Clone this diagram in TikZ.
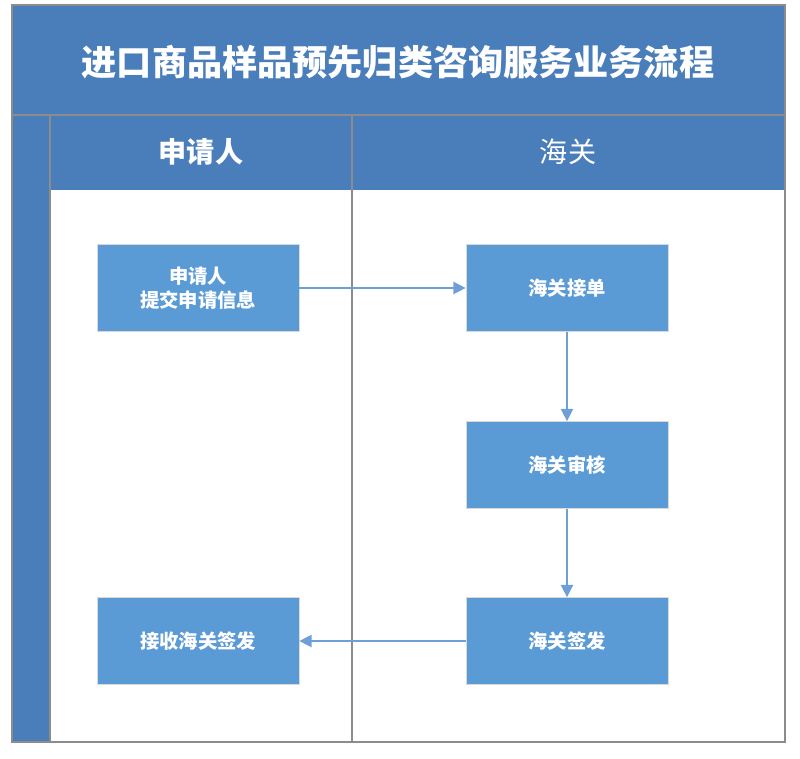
\documentclass[tikz,border=0pt]{standalone}
\usepackage{fontspec}
\setmainfont{Noto Sans CJK SC}
\usetikzlibrary{arrows.meta,positioning,calc}
\definecolor{bandblue}{HTML}{4A7EBB}
\definecolor{boxblue}{HTML}{5B9BD5}
\definecolor{linkblue}{HTML}{6F9FD8}
\begin{document}
\begin{tikzpicture}[x=0.02cm,y=-0.02cm,
    flowstep/.style={draw=white!85!black,fill=boxblue,text=white,font=\bfseries\fontsize{11}{14}\selectfont,
        minimum width=4.04cm,minimum height=1.74cm,align=center,inner sep=0pt},
    link/.style={draw=linkblue,line width=0.8pt,-{Triangle[length=7pt,width=7pt]}}]
    \useasboundingbox (0,0) rectangle (800,759);
    % frame and bands
    \fill[bandblue] (12,5) rectangle (785,115);
    \fill[bandblue] (12,115) rectangle (50,742);
    \fill[bandblue] (50,115) rectangle (785,190);
    \draw[black!45,line width=0.6pt] (12,5) rectangle (785,742);
    \draw[black!45,line width=0.6pt] (12,115) -- (785,115);
    \draw[black!45,line width=0.6pt] (50,115) -- (50,742);
    \draw[black!45,line width=0.6pt] (352,115) -- (352,742);
    \node[text=white,font=\bfseries\fontsize{20}{24}\selectfont] (title) at (398,62) {进口商品样品预先归类咨询服务业务流程};
    \node[text=white,font=\bfseries\fontsize{16}{20}\selectfont] (lane1) at (201,152) {申请人};
    \node[text=white,font=\fontsize{16}{20}\selectfont] (lane2) at (568,152) {海关};
    % steps
    \node[flowstep] (apply) at (198,288) {申请人\\提交申请信息};
    \node[flowstep] (accept) at (567,288) {海关接单};
    \node[flowstep] (review) at (567,465) {海关审核};
    \node[flowstep] (issue) at (567,641) {海关签发};
    \node[flowstep] (receive) at (198,641) {接收海关签发};
    % links
    \draw[link] (apply) -- (accept);
    \draw[link] (accept) -- (review);
    \draw[link] (review) -- (issue);
    \draw[link] (issue) -- (receive);
\end{tikzpicture}
\end{document}
